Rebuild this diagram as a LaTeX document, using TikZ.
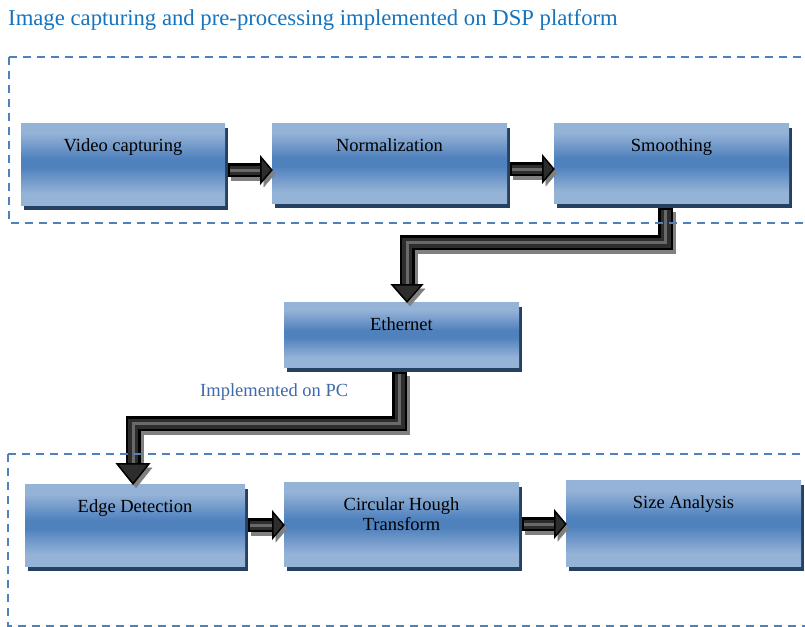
\documentclass[tikz,border=0pt]{standalone}
\usepackage{fontspec}
\setmainfont{Liberation Serif}
\usetikzlibrary{calc,shadows}
\definecolor{boxlight}{RGB}{149,179,215}
\definecolor{boxdark}{RGB}{79,129,189}
\definecolor{boxshadow}{RGB}{38,64,97}
\definecolor{dashblue}{RGB}{79,129,189}
\definecolor{titleblue}{RGB}{22,115,190}
\definecolor{labelblue}{RGB}{62,106,170}
\definecolor{arrdark}{RGB}{45,45,45}
\definecolor{arrhl}{RGB}{105,105,105}
\definecolor{arrshadow}{RGB}{128,128,128}
\pgfdeclareverticalshading{boxshade}{100bp}{color(0bp)=(boxlight); color(32bp)=(boxlight); color(48bp)=(boxdark); color(53bp)=(boxdark); color(69bp)=(boxlight); color(100bp)=(boxlight)}
\tikzset{
  procbox/.style={shading=boxshade, inner sep=0pt,
    drop shadow={shadow xshift=3pt, shadow yshift=-5pt, fill=boxshadow, opacity=1}},
  boxtext/.style={anchor=north, yshift=-15.5pt, align=center, inner sep=0pt,
    font=\fontsize{18.5}{20}\selectfont, text=black},
  arrowbody/.style={line width=#1, draw=black, line join=miter,
    preaction={draw=arrshadow, line width=#1, transform canvas={xshift=3pt, yshift=-4pt}},
    postaction={draw=arrdark, line width=#1-5pt, shorten <=2pt},
    postaction={draw=arrhl, line width=3pt, shorten <=2pt}},
  arrowhead/.style={fill=arrdark, draw=black, line width=1.5pt, line join=miter,
    preaction={fill=arrshadow, draw=arrshadow, transform canvas={xshift=3pt, yshift=-4pt}}},
  dashbox/.style={draw=dashblue, line width=2.8pt, dash pattern=on 8pt off 6pt}
}
\begin{document}
\begin{tikzpicture}[x=1pt,y=-1pt]
\useasboundingbox (0,0) rectangle (805,626);
\clip (0,0) rectangle (805,626);

\node[anchor=base west, inner sep=0pt, text=titleblue, font=\fontsize{22.7}{24}\selectfont] (title) at (8,26) {Image capturing and pre-processing implemented on DSP platform};

% top row
\node[procbox, minimum width=204pt, minimum height=82pt, label={[boxtext]north:Video capturing}] (video) at (123,164) {};
\node[procbox, minimum width=235pt, minimum height=80pt, label={[boxtext]north:Normalization}] (norm) at (389.5,163) {};
\node[procbox, minimum width=235pt, minimum height=80pt, label={[boxtext]north:Smoothing}] (smooth) at (671.5,163) {};

% middle
\node[procbox, minimum width=235pt, minimum height=65pt, label={[boxtext]north:Ethernet}] (eth) at (401.5,334.5) {};
\node[anchor=base west, inner sep=0pt, text=labelblue, font=\fontsize{18.5}{20}\selectfont] (pclabel) at (200,396) {Implemented on PC};

% bottom row
\node[procbox, minimum width=220pt, minimum height=82pt, label={[boxtext]north:Edge Detection}] (edge) at (135,525) {};
\node[procbox, minimum width=235pt, minimum height=84pt, label={[boxtext]north:Circular Hough\\Transform}] (circ) at (401.5,524) {};
\node[procbox, minimum width=235pt, minimum height=86pt, label={[boxtext]north:Size Analysis}] (size) at (683.5,523) {};

% horizontal arrows
\coordinate (h1s) at ($(video.east)+(3,6)$);
\coordinate (h1t) at ($(norm.west)+(0,7)$);
\draw[arrowbody=14pt] (h1s) -- ($(h1t)+(-11,0)$);
\draw[arrowhead] ($(h1t)+(-11,-13)$) -- (h1t) -- ($(h1t)+(-11,13)$) -- cycle;

\coordinate (h2s) at ($(norm.east)+(3,6)$);
\coordinate (h2t) at ($(smooth.west)+(0,6)$);
\draw[arrowbody=14pt] (h2s) -- ($(h2t)+(-11,0)$);
\draw[arrowhead] ($(h2t)+(-11,-13)$) -- (h2t) -- ($(h2t)+(-11,13)$) -- cycle;

\coordinate (h3s) at ($(edge.east)+(3,0)$);
\coordinate (h3t) at ($(circ.west)+(0,1)$);
\draw[arrowbody=14pt] (h3s) -- ($(h3t)+(-11,0)$);
\draw[arrowhead] ($(h3t)+(-11,-13)$) -- (h3t) -- ($(h3t)+(-11,13)$) -- cycle;

\coordinate (h4s) at ($(circ.east)+(3,0)$);
\coordinate (h4t) at ($(size.west)+(0,1)$);
\draw[arrowbody=14pt] (h4s) -- ($(h4t)+(-11,0)$);
\draw[arrowhead] ($(h4t)+(-11,-13)$) -- (h4t) -- ($(h4t)+(-11,13)$) -- cycle;

% elbow arrows
\coordinate (e1s) at ($(smooth.south)+(-6,5)$);
\coordinate (e1t) at ($(eth.north)+(5.5,0)$);
\draw[arrowbody=15pt] (e1s) -- ++(0,34.5) -| ($(e1t)+(0,-17)$);
\draw[arrowhead] ($(e1t)+(-15,-17)$) -- (e1t) -- ($(e1t)+(15,-17)$) -- cycle;

\coordinate (e2s) at ($(eth.south)+(-2,5)$);
\coordinate (e2t) at ($(edge.north)+(-2,0)$);
\draw[arrowbody=15pt] (e2s) -- ++(0,51.5) -| ($(e2t)+(0,-20)$);
\draw[arrowhead] ($(e2t)+(-16,-20)$) -- (e2t) -- ($(e2t)+(16,-20)$) -- cycle;

% dashed regions
\draw[dashbox] (9,57) rectangle (820,223);
\draw[dashbox] (8,454) rectangle (820,626);
\end{tikzpicture}
\end{document}
